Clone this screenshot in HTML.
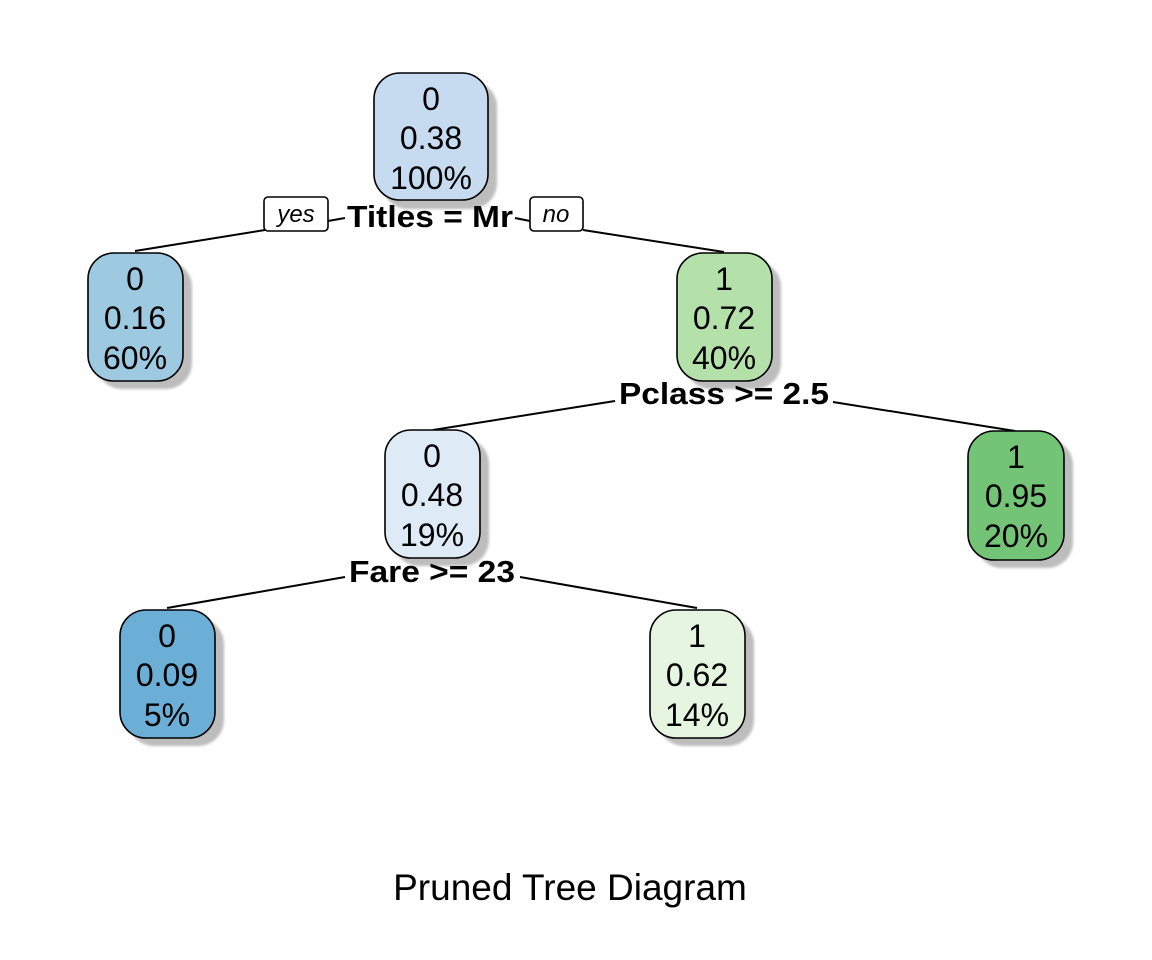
<!DOCTYPE html>
<html><head><meta charset="utf-8"><style>html,body{margin:0;padding:0;background:#fff}svg{display:block}</style></head>
<body>
<svg width="1152" height="960" viewBox="0 0 1152 960" xmlns="http://www.w3.org/2000/svg" font-family="Liberation Sans, sans-serif">
<defs><filter id="b"><feGaussianBlur stdDeviation="1.2"/></filter></defs>
<g stroke="#000" stroke-width="2" fill="none">
<line x1="135" y1="251" x2="265" y2="230"/>
<line x1="328" y1="221" x2="345" y2="218"/>
<line x1="515" y1="218" x2="530" y2="221"/>
<line x1="583" y1="230" x2="724" y2="252"/>
<line x1="433" y1="430" x2="615" y2="401"/>
<line x1="833" y1="402" x2="1015" y2="431"/>
<line x1="167" y1="608" x2="345" y2="577"/>
<line x1="520" y1="577" x2="697" y2="608"/>
</g>
<g fill="#bdbdbd" filter="url(#b)">
<rect x="382" y="81" width="115" height="128" rx="26"/>
<rect x="96" y="261" width="96" height="128" rx="26"/>
<rect x="685" y="261" width="96" height="128" rx="26"/>
<rect x="393" y="438" width="96" height="128" rx="26"/>
<rect x="976" y="439" width="97" height="129" rx="26"/>
<rect x="128" y="618" width="96" height="128" rx="26"/>
<rect x="658" y="618" width="96" height="128" rx="26"/>
</g>
<g stroke="#000" stroke-width="1.6">
<rect x="374" y="73" width="114" height="127" rx="26" fill="#c6dbef"/>
<rect x="88" y="253" width="95" height="128" rx="26" fill="#9ecae1"/>
<rect x="677" y="253" width="95" height="128" rx="26" fill="#b4e0aa"/>
<rect x="385" y="430" width="95" height="128" rx="26" fill="#deebf7"/>
<rect x="968" y="431" width="96" height="129" rx="26" fill="#73c476"/>
<rect x="120" y="610" width="95" height="128" rx="26" fill="#6baed6"/>
<rect x="650" y="610" width="95" height="128" rx="26" fill="#e5f5e0"/>
</g>
<g font-size="32" text-anchor="middle" fill="#000">
<text x="431" y="110">0</text><text x="431" y="149">0.38</text><text x="431" y="189">100%</text>
<text x="135" y="290">0</text><text x="135" y="329">0.16</text><text x="135" y="369">60%</text>
<text x="724" y="290">1</text><text x="724" y="329">0.72</text><text x="724" y="369">40%</text>
<text x="432" y="467">0</text><text x="432" y="506">0.48</text><text x="432" y="546">19%</text>
<text x="1016" y="468">1</text><text x="1016" y="507">0.95</text><text x="1016" y="547">20%</text>
<text x="167" y="647">0</text><text x="167" y="686">0.09</text><text x="167" y="726">5%</text>
<text x="697" y="647">1</text><text x="697" y="686">0.62</text><text x="697" y="726">14%</text>
</g>
<g font-size="31" font-weight="bold" text-anchor="middle">
<text x="430" y="227" textLength="166" lengthAdjust="spacingAndGlyphs">Titles = Mr</text>
<text x="724" y="404" textLength="210" lengthAdjust="spacingAndGlyphs">Pclass &gt;= 2.5</text>
<text x="432" y="582" textLength="166" lengthAdjust="spacingAndGlyphs">Fare &gt;= 23</text>
</g>
<rect x="264" y="197" width="64" height="34" rx="4" fill="#fff" stroke="#000" stroke-width="1.6"/>
<text x="296" y="222" font-size="24" font-style="italic" text-anchor="middle">yes</text>
<rect x="530" y="197" width="53" height="34" rx="4" fill="#fff" stroke="#000" stroke-width="1.6"/>
<text x="556" y="222" font-size="24" font-style="italic" text-anchor="middle">no</text>
<text x="570" y="900" font-size="37" text-anchor="middle">Pruned Tree Diagram</text>
</svg>
</body></html>
